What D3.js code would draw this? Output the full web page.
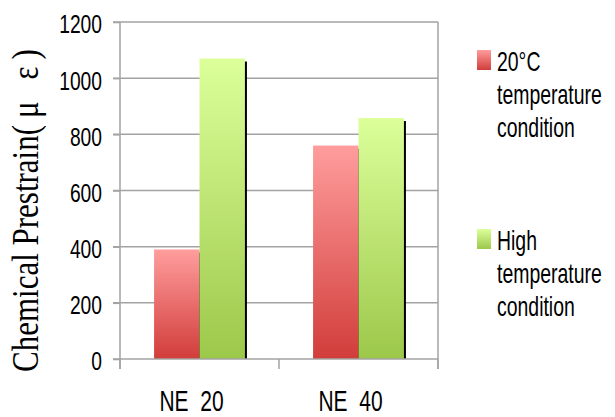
<!DOCTYPE html>
<html>
<head>
<meta charset="utf-8">
<script src="https://cdn.jsdelivr.net/npm/d3@7"></script>
<style>
  body { margin: 0; background: #fff; }
  svg { display: block; }
</style>
</head>
<body>
<svg id="chart" width="615" height="417"></svg>
<script>
// data
const categories = ['NE 20', 'NE 40'];
const series = ['20°C temperature condition', 'High temperature condition'];
const legendLines = [['20°C', 'temperature', 'condition'], ['High', 'temperature', 'condition']];
const values20C = [390, 760];
const valuesHigh = [1070, 858];
const yTicks = [0, 200, 400, 600, 800, 1000, 1200];
const yTitle = 'Chemical Prestrain';
const yUnit = '(μ ε)';

const svg = d3.select('#chart');
const sans = '"Liberation Sans", Arial, sans-serif';

// squeeze text horizontally (original font is a tall narrow gothic)
function squeeze(sel, k) {
  sel.each(function() {
    const t = d3.select(this);
    const x0 = +t.attr('x') || 0;
    t.attr('x', x0 / k).attr('transform', `scale(${k},1)`);
  });
}

const x = d3.scaleBand().domain(categories).range([120, 438]).paddingInner(0).paddingOuter(0);
const x1 = d3.scaleBand().domain(series).range([0, x.bandwidth()]).paddingInner(0).paddingOuter(0.75);
const y = d3.scaleLinear().domain([0, 1200]).range([359, 22]);

const defs = svg.append('defs');
const grads = [['gRed', '#ff9d9d', '#d13d3a'], ['gGreen', '#dcff9a', '#9cc84a']];
grads.forEach(g => {
  const lg = defs.append('linearGradient').attr('id', g[0]).attr('x1', 0).attr('y1', 0).attr('x2', 0).attr('y2', 1);
  lg.append('stop').attr('offset', 0).attr('stop-color', g[1]);
  lg.append('stop').attr('offset', 1).attr('stop-color', g[2]);
});
const color = d3.scaleOrdinal().domain(series).range(['url(#gRed)', 'url(#gGreen)']);

// gridlines + plot border
svg.append('g').selectAll('line').data(yTicks.filter(d => d > 0)).join('line')
  .attr('x1', 113).attr('x2', 438)
  .attr('y1', d => y(d)).attr('y2', d => y(d))
  .attr('stroke', '#a3a3a3').attr('stroke-width', 1.5);
svg.append('line').attr('x1', 438).attr('x2', 438).attr('y1', y(1200)).attr('y2', y(0) + 10)
  .attr('stroke', '#a3a3a3').attr('stroke-width', 1.5);

// y axis
const yAxis = svg.append('g').attr('transform', 'translate(120,0)')
  .call(d3.axisLeft(y).tickValues(yTicks).tickSize(7).tickPadding(11).tickFormat(d3.format('d')));
yAxis.select('.domain').remove();
yAxis.append('line').attr('x1', 0).attr('x2', 0).attr('y1', y(1200)).attr('y2', y(0) + 10)
  .attr('stroke', '#a3a3a3').attr('stroke-width', 1.5);
yAxis.selectAll('.tick line').attr('stroke', '#a3a3a3').attr('stroke-width', 1.5);
yAxis.selectAll('.tick text')
  .attr('font-family', sans).attr('font-size', 26).attr('fill', '#000').attr('dy', '0.42em')
  .call(squeeze, 0.74);

// bars
const rows = categories.map((c, i) => ({cat: c, vals: [
  {s: series[0], v: values20C[i]}, {s: series[1], v: valuesHigh[i]}]}));
const grp = svg.append('g').selectAll('g').data(rows).join('g')
  .attr('transform', d => `translate(${x(d.cat)},0)`);
grp.selectAll('rect.shadow').data(d => d.vals).join('rect').attr('class', 'shadow')
  .attr('x', d => x1(d.s) + 2).attr('y', d => y(d.v) + 3)
  .attr('width', x1.bandwidth()).attr('height', d => y(0) - y(d.v) - 3)
  .attr('fill', '#000');
grp.selectAll('rect.bar').data(d => d.vals).join('rect').attr('class', 'bar')
  .attr('x', d => x1(d.s)).attr('y', d => y(d.v))
  .attr('width', x1.bandwidth()).attr('height', d => y(0) - y(d.v))
  .attr('fill', d => color(d.s));

// x axis
svg.append('line').attr('x1', 113).attr('x2', 438).attr('y1', y(0)).attr('y2', y(0))
  .attr('stroke', '#a3a3a3').attr('stroke-width', 1.5);
svg.append('g').selectAll('line').data([120, x(categories[1]), 438]).join('line')
  .attr('x1', d => d).attr('x2', d => d).attr('y1', y(0)).attr('y2', y(0) + 10)
  .attr('stroke', '#a3a3a3').attr('stroke-width', 1.5);
svg.append('g').selectAll('text').data(categories).join('text')
  .attr('x', d => x(d) + x.bandwidth() / 2 - 8).attr('y', 411)
  .attr('text-anchor', 'middle').attr('font-family', sans).attr('font-size', 30)
  .attr('xml:space', 'preserve')
  .text(d => d.replace(' ', '  '))
  .call(squeeze, 0.7);

// y title
const t = svg.append('text')
  .attr('transform', 'translate(38,372) rotate(-90) scale(1,1.2)')
  .attr('font-family', '"Liberation Serif", "Times New Roman", serif').attr('font-size', 31);
t.append('tspan').text(yTitle);
t.append('tspan').attr('letter-spacing', 7).attr('dx', 0).text(yUnit);

// legend
const leg = svg.append('g').selectAll('g').data(series).join('g')
  .attr('transform', (d, i) => `translate(477,${50 + i * 179})`);
leg.append('rect').attr('width', 14).attr('height', 20).attr('fill', d => color(d));
leg.selectAll('text').data((d, i) => legendLines[i]).join('text')
  .attr('x', 20).attr('y', (d, j) => 21 + j * 33)
  .attr('font-family', sans).attr('font-size', 27)
  .text(d => d)
  .call(squeeze, 0.72);
</script>
</body>
</html>
